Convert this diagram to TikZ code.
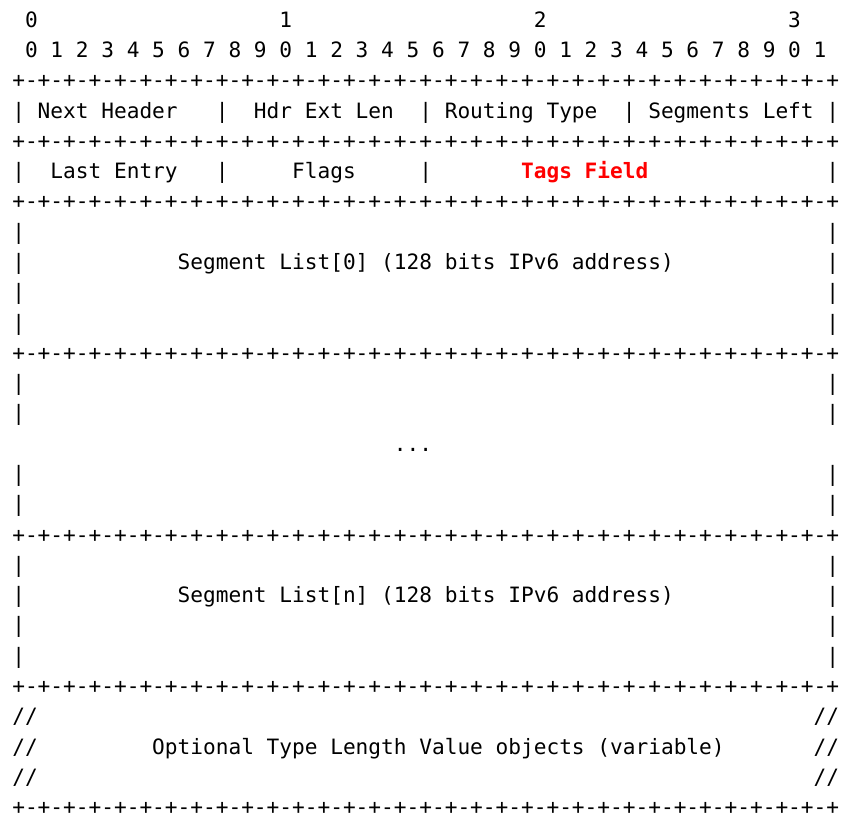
\documentclass[tikz,border=0pt]{standalone}
\usepackage{fontspec}
\newfontfamily\monofont{DejaVu Sans Mono}
\definecolor{tagred}{RGB}{255,0,0}
\def\xo{12.3}
\def\pw{12.72}
\def\yo{27.3}
\def\lh{30.28}
\newcommand\bordline{+-+-+-+-+-+-+-+-+-+-+-+-+-+-+-+-+-+-+-+-+-+-+-+-+-+-+-+-+-+-+-+-+}
\newcommand\cell[4]{\node[mono] (#1) at ({\xo+(#2)*\pw},{-(\yo+(#3-1)*\lh)}) {#4};}
\tikzset{
  mono/.style={font={\monofont\fontsize{21.13}{25}\selectfont\frenchspacing},
    anchor=base west, inner sep=0pt, outer sep=0pt, text=black},
  tag/.style={text=tagred, font={\monofont\bfseries\fontsize{21.13}{25}\selectfont}},
  rule/.style={mono}
}
\begin{document}
\begin{tikzpicture}[x=1pt,y=1pt]
\useasboundingbox[fill=white] (0,0) rectangle (844,-820);
% bit index header
\cell{h0}{1}{1}{0}
\cell{h1}{21}{1}{1}
\cell{h2}{41}{1}{2}
\cell{h3}{61}{1}{3}
\foreach \i in {0,...,31}{
  \pgfmathtruncatemacro\dd{mod(\i,10)}
  \cell{d\i}{1+2*\i}{2}{\dd}
}
% border lines
\foreach \k in {3,5,7,12,18,23,27}{
  \node[rule] (b\k) at ({\xo},{-(\yo+(\k-1)*\lh)}) {\bordline};
}
% row 4
\foreach \c in {0,16,32,48,64}{ \cell{r4b\c}{\c}{4}{|} }
\cell{nh}{2}{4}{Next Header}
\cell{hel}{19}{4}{Hdr Ext Len}
\cell{rt}{34}{4}{Routing Type}
\cell{sl}{50}{4}{Segments Left}
% row 6
\foreach \c in {0,16,32,64}{ \cell{r6b\c}{\c}{6}{|} }
\cell{le}{3}{6}{Last Entry}
\cell{fl}{22}{6}{Flags}
\node[mono,tag] (tf) at ({\xo+40*\pw},{-(\yo+5*\lh)}) {Tags Field};
% empty rows with side bars
\foreach \k in {8,10,11,13,14,16,17,19,21,22}{
  \cell{bl\k}{0}{\k}{|}
  \cell{br\k}{64}{\k}{|}
}
% segment list rows
\cell{bl9}{0}{9}{|}
\cell{br9}{64}{9}{|}
\cell{s0}{13}{9}{Segment List[0] (128 bits IPv6 address)}
\cell{dots}{30}{15}{...}
\cell{bl20}{0}{20}{|}
\cell{br20}{64}{20}{|}
\cell{sn}{13}{20}{Segment List[n] (128 bits IPv6 address)}
% TLV rows
\foreach \k in {24,25,26}{
  \cell{sl\k}{0}{\k}{//}
  \cell{sr\k}{63}{\k}{//}
}
\cell{tlv}{11}{25}{Optional Type Length Value objects (variable)}
\end{tikzpicture}
\end{document}
